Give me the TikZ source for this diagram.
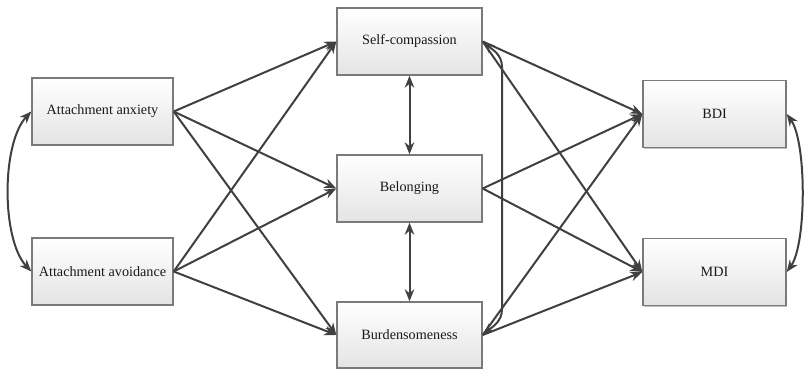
\documentclass[tikz,border=0pt]{standalone}
\usepackage{fontspec}
\setmainfont{Liberation Serif}
\usetikzlibrary{arrows.meta,shadows}
\definecolor{boxline}{HTML}{7A7A7A}
\definecolor{boxbot}{HTML}{E4E4E4}
\definecolor{arr}{HTML}{404040}
\tikzset{
  var/.style={draw=boxline, line width=1.4pt, top color=white, bottom color=boxbot,
    minimum width=143pt, minimum height=67pt, inner sep=0pt, text=black!90,
    font=\fontsize{14.2}{16}\selectfont,
    drop shadow={shadow xshift=1.3pt, shadow yshift=-1.3pt, opacity=0.4, fill=black!60}},
  causal/.style={draw=arr, line width=2pt, -{Stealth[length=12pt,width=9.5pt]}},
  both/.style={draw=arr, line width=2pt, {Stealth[length=12pt,width=9.5pt]}-{Stealth[length=12pt,width=9.5pt]}}
}
\begin{document}
\begin{tikzpicture}[x=1pt,y=1pt]
\useasboundingbox (0,0) rectangle (805,371);
\node[var, minimum width=141pt] (anx) at (102.5,259.5) {Attachment anxiety};
\node[var, minimum width=141pt] (avo) at (102.5,99.5) {Attachment avoidance};
\node[var, minimum width=145pt] (sc) at (409.5,329.5) {Self-compassion};
\node[var, minimum width=145pt] (bel) at (409.5,182.5) {Belonging};
\node[var, minimum width=145pt, minimum height=66pt] (bur) at (409.5,36) {Burdensomeness};
\node[var] (bdi) at (714.5,257) {BDI};
\node[var] (mdi) at (714.5,99) {MDI};
% left to mediators
\foreach \s in {anx,avo}{
  \foreach \t in {sc,bel,bur}{
    \draw[causal] (\s.east) -- (\t.west);
  }
}
% mediators to outcomes
\foreach \s in {sc,bel,bur}{
  \foreach \t in {bdi,mdi}{
    \draw[causal] (\s.east) -- (\t.west);
  }
}
% vertical correlations
\draw[both] (sc.south) -- (bel.north);
\draw[both] (bel.south) -- (bur.north);
% left correlation
\draw[both] (anx.west) .. controls +(-30,-32) and +(-30,32) .. (avo.west);
% right correlation
\draw[both] (bdi.east) .. controls +(20,-28) and +(20,28) .. (mdi.east);
% self-compassion <-> burdensomeness
\coordinate (c1) at (502,304);
\coordinate (c2) at (502,62);
\draw[both] (sc.east) to[out=-40,in=90] (c1) -- (c2) to[out=-90,in=40] (bur.east);
\end{tikzpicture}
\end{document}
